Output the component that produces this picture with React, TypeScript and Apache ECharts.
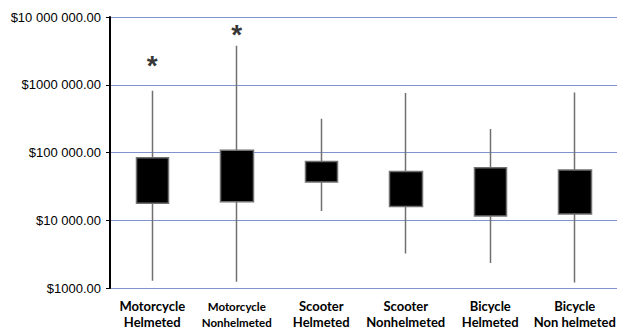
import React, { useEffect, useRef } from "react";
import * as echarts from "echarts";

const categories = [
  "Motorcycle\nHelmeted",
  "Motorcycle\nNonhelmeted",
  "Scooter\nHelmeted",
  "Scooter\nNonhelmeted",
  "Bicycle\nHelmeted",
  "Bicycle\nNon helmeted",
];
// [Q1, Q3, min, max]
const lowerQuartile = [17800, 18800, 36600, 15900, 11600, 12400];
const upperQuartile = [83600, 108000, 73800, 52500, 59600, 55000];
const minimum = [1280, 1240, 13700, 3240, 2330, 1210];
const maximum = [817000, 3750000, 316000, 755000, 223000, 771000];
const outliers: [number, number][] = [
  [0, 1950000],
  [1, 5600000],
];
const tickLabels: Record<number, string> = {
  1000: "$1000.00",
  10000: "$10 000.00",
  100000: "$100 000.00",
  1000000: "$1000 000.00",
  10000000: "$10 000 000.00",
};

export default function App() {
  const ref = useRef<HTMLDivElement>(null);
  useEffect(() => {
    document.body.style.margin = "0";
    const chart = echarts.init(ref.current!, undefined, { renderer: "svg" });
    const candle = categories.map((_, i) => [
      lowerQuartile[i],
      upperQuartile[i],
      minimum[i],
      maximum[i],
    ]);
    chart.setOption({
      animation: false,
      grid: { left: 110, right: 5, top: 17, bottom: 41 },
      xAxis: {
        type: "category",
        data: categories,
        axisLine: { show: false },
        axisTick: { show: false },
        axisLabel: {
          interval: 0,
          margin: 10,
          color: "#000",
          fontFamily: "Lato",
          fontWeight: "bold",
          fontSize: 13,
          lineHeight: 16,
          formatter: (v: string, i: number) =>
            i === 1
              ? v
                  .split("\n")
                  .map((s) => `{s|${s}}`)
                  .join("\n")
              : v,
          rich: {
            s: {
              fontFamily: "Lato",
              fontWeight: "bold",
              fontSize: 11.5,
              lineHeight: 16,
              color: "#000",
            },
          },
        },
      },
      yAxis: {
        type: "log",
        logBase: 10,
        min: 1000,
        max: 10000000,
        axisLine: { show: true, lineStyle: { color: "#000", width: 2 } },
        axisTick: { show: true, length: 4, lineStyle: { color: "#000" } },
        splitLine: { show: true, lineStyle: { color: "#7f93cf", width: 1 } },
        axisLabel: {
          margin: 9,
          color: "#000",
          fontFamily: "Liberation Sans",
          fontSize: 13,
          formatter: (v: number) => tickLabels[Math.round(v)] ?? "",
        },
      },
      series: [
        {
          type: "candlestick",
          data: candle,
          barWidth: 33,
          itemStyle: {
            color: "#000",
            color0: "#000",
            borderColor: "#707070",
            borderColor0: "#707070",
            borderWidth: 1.5,
          },
        },
        {
          type: "scatter",
          data: outliers,
          symbol: "circle",
          symbolSize: 0.1,
          itemStyle: { color: "transparent" },
          label: {
            show: true,
            position: "inside",
            formatter: "*",
            fontFamily: "Liberation Sans",
            fontWeight: "bold",
            fontSize: 28,
            color: "#000",
          },
        },
      ],
    });
    return () => chart.dispose();
  }, []);
  return <div ref={ref} style={{ width: 622, height: 330 }} />;
}
